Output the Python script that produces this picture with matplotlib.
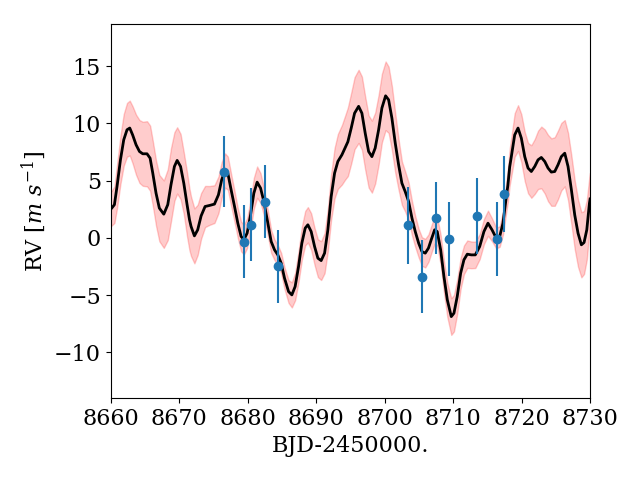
import matplotlib
matplotlib.use("Agg")
import matplotlib.pyplot as plt
import numpy as np

# Data points
t_obs = [8676.5, 8679.4, 8680.5, 8682.5, 8684.4, 8703.4, 8705.4, 8707.5, 8709.4, 8713.5, 8716.4, 8717.4]
rv_obs = [5.8, -0.35, 1.15, 3.15, -2.5, 1.1, -3.4, 1.75, -0.1, 1.9, -0.1, 3.85]
rv_err = [3.1, 3.2, 3.2, 3.2, 3.2, 3.35, 3.2, 3.15, 3.25, 3.3, 3.2, 3.35]

# GP model mean curve and 1-sigma width
t_model = [8660.0, 8660.15, 8660.54, 8660.92, 8661.42, 8661.9, 8662.38, 8662.78, 8663.2, 8663.7,
           8664.2, 8664.68, 8665.3, 8665.75, 8666.14, 8666.62, 8667.1, 8667.75, 8668.33, 8668.8,
           8669.3, 8669.7, 8670.2, 8670.67, 8671.15, 8671.5, 8671.73, 8672.22, 8672.7, 8673.2,
           8673.78, 8674.42, 8675.15, 8675.73, 8676.2, 8676.7, 8677.1, 8677.58, 8678.08, 8678.56,
           8679.04, 8679.44, 8679.92, 8680.42, 8680.9, 8681.38, 8681.88, 8682.36, 8682.95, 8683.43,
           8683.92, 8684.4, 8684.89, 8685.38, 8685.97, 8686.45, 8686.93, 8687.43, 8687.91, 8688.4,
           8688.79, 8689.27, 8689.77, 8690.25, 8690.73, 8691.23, 8691.71, 8692.19, 8692.69, 8693.17,
           8693.76, 8694.24, 8694.63, 8695.12, 8695.61, 8696.2, 8696.68, 8697.16, 8697.66, 8698.14,
           8698.62, 8699.12, 8699.6, 8700.14, 8700.58, 8701.06, 8701.55, 8702.04, 8702.52, 8703.0,
           8703.5, 8703.99, 8704.47, 8704.97, 8705.45, 8705.93, 8706.4, 8706.8, 8707.3, 8707.68,
           8708.18, 8708.66, 8709.15, 8709.73, 8710.12, 8710.6, 8711.1, 8711.58, 8712.07, 8712.65,
           8713.24, 8713.88, 8714.5, 8715.09, 8715.68, 8716.3, 8716.8, 8717.28, 8717.77, 8718.0,
           8718.26, 8718.5, 8718.99, 8719.48, 8719.96, 8720.46, 8720.94, 8721.42, 8721.92, 8722.4,
           8722.88, 8723.38, 8723.86, 8724.34, 8724.84, 8725.32, 8725.8, 8726.3, 8726.78, 8727.27,
           8727.76, 8728.24, 8728.73, 8729.12, 8729.52, 8729.9, 8730.0]
rv_model = [2.5, 2.6, 2.9, 4.49, 6.82, 8.57, 9.45, 9.6, 9.0, 8.14,
            7.55, 7.35, 7.35, 6.97, 5.66, 3.9, 2.6, 2.07, 2.9, 4.64,
            6.24, 6.77, 6.24, 4.78, 2.9, 1.6, 1.0, 0.17, 0.7, 1.92,
            2.74, 2.83, 2.95, 3.76, 5.07, 5.89, 5.66, 4.2, 2.74, 1.28,
            0.12, -0.17, 0.41, 2.0, 3.9, 4.87, 4.35, 3.18, 1.28, -0.32,
            -1.05, -1.49, -2.21, -3.53, -4.7, -4.99, -4.26, -2.5, -0.47, 0.85,
            1.14, 0.55, -0.76, -1.78, -1.99, -1.34, 0.7, 3.6, 5.66, 6.68,
            7.26, 7.9, 8.4, 9.6, 10.9, 11.5, 10.9, 9.16, 7.55, 7.1,
            7.85, 9.45, 11.35, 12.42, 12.07, 10.47, 8.28, 6.39, 4.78, 4.05,
            3.18, 1.72, 0.55, -0.47, -1.2, -1.34, -0.9, -0.17, 0.7, 0.55,
            -1.05, -3.38, -5.42, -6.89, -6.59, -5.13, -3.09, -1.92, -1.43, -1.49,
            -1.49, -0.76, 0.55, 1.28, 0.7, -0.03, 0.12, 1.28, 3.6, 4.6,
            6.2, 7.1, 9.0, 9.6, 8.72, 7.1, 6.1, 5.8, 6.24, 6.82,
            7.03, 6.68, 6.1, 5.75, 5.8, 6.39, 7.1, 7.4, 6.24, 4.2,
            2.0, 0.41, -0.61, -0.41, 0.7, 3.0, 3.4]
rv_sigma = [1.5, 1.52, 1.6, 1.9, 2.1, 2.26, 2.35, 2.4, 2.5, 2.63,
            2.75, 2.8, 2.85, 2.85, 2.83, 2.85, 2.9, 2.95, 3.1, 3.2,
            3.0, 2.9, 2.85, 2.7, 2.8, 2.7, 2.6, 2.4, 2.2, 2.0,
            1.8, 1.7, 1.65, 1.6, 1.55, 1.5, 1.45, 1.4, 1.35, 1.3,
            1.3, 1.3, 1.3, 1.3, 1.35, 1.37, 1.3, 1.2, 1.1, 1.0,
            0.9, 0.85, 0.9, 0.95, 1.0, 1.1, 1.2, 1.35, 1.45, 1.5,
            1.55, 1.6, 1.62, 1.65, 1.7, 1.75, 1.85, 2.0, 2.2, 2.4,
            2.6, 2.8, 3.0, 3.1, 3.15, 3.2, 3.2, 3.2, 3.15, 3.15,
            3.1, 3.05, 3.0, 3.0, 2.9, 2.8, 2.6, 2.2, 1.9, 1.75,
            1.65, 1.5, 1.35, 1.25, 1.25, 1.25, 1.2, 1.2, 1.2, 1.25,
            1.3, 1.4, 1.5, 1.6, 1.6, 1.5, 1.35, 1.25, 1.2, 1.17,
            1.15, 1.1, 1.1, 1.1, 1.0, 0.9, 0.9, 1.0, 1.3, 1.45,
            1.6, 1.7, 1.9, 2.0, 2.1, 2.15, 2.2, 2.3, 2.4, 2.55,
            2.7, 2.8, 2.9, 2.95, 3.0, 3.0, 2.95, 2.9, 2.95, 3.0,
            3.0, 2.95, 2.85, 2.75, 2.6, 2.35, 2.3]

plt.rcParams['font.family'] = ['DejaVu Serif']
plt.rcParams['mathtext.fontset'] = 'dejavuserif'
plt.rcParams['font.size'] = 16

fig, ax = plt.subplots(figsize=(6.4, 4.8), dpi=100)
fig.subplots_adjust(left=0.173, right=0.922, top=0.95, bottom=0.171)

tm = np.array(t_model)
mm = np.array(rv_model)
ss = np.array(rv_sigma)
ax.fill_between(tm, mm - ss, mm + ss, color='red', alpha=0.2)
ax.plot(tm, mm, color='black', lw=2)
ax.errorbar(t_obs, rv_obs, yerr=rv_err, fmt='o', color='C0')

ax.set_xlim(8660, 8730)
ax.set_ylim(-14, 18.7)
ax.set_yticks([-10, -5, 0, 5, 10, 15])
ax.set_xlabel('BJD-2450000.')
ax.set_ylabel(r'RV $[m\ s^{-1}]$')

fig.savefig('out.png', dpi=100)
